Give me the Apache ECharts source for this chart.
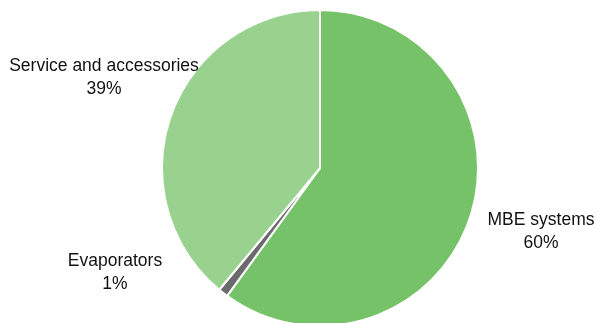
<!DOCTYPE html>
<html>
<head>
<meta charset="utf-8">
<script src="https://cdn.jsdelivr.net/npm/echarts@6/dist/echarts.min.js"></script>
<style>
  html, body { margin: 0; padding: 0; background: #fff; }
  #chartSales { width: 598px; height: 323px; }
</style>
</head>
<body>
<div id="chartSales"></div>
<script>
  var segNames = ['MBE systems', 'Evaporators', 'Service and accessories'];
  var segShares = [60, 1, 39];
  var segColors = ['#76C268', '#6B6B6B', '#98D28E'];
  // label anchor points (centre of the two-line text)
  var labelPos = [[541, 232], [115, 273], [104, 78]];

  var pieData = [];
  segNames.forEach((name, i) => {
    pieData.push({
      name: name,
      value: segShares[i],
      itemStyle: { color: segColors[i] }
    });
  });

  var chartOption = {
    animation: false,
    series: [
      {
        type: 'pie',
        radius: 158,
        center: [320, 168],
        startAngle: 90,
        clockwise: true,
        data: pieData,
        itemStyle: {
          borderColor: '#ffffff',
          borderWidth: 2
        },
        label: {
          show: true,
          position: 'outside',
          formatter: function (p) { return p.name + '\n' + p.value + '%'; },
          fontFamily: 'Liberation Sans, Arial, sans-serif',
          fontSize: 17.5,
          lineHeight: 23,
          color: '#111111',
          align: 'center',
          overflow: 'none',
          width: 300
        },
        labelLine: { show: false },
        labelLayout: function (params) {
          var pt = labelPos[params.dataIndex];
          return { x: pt[0], y: pt[1], align: 'center', verticalAlign: 'middle' };
        },
        emphasis: { disabled: true }
      }
    ]
  };

  var myChart = echarts.init(document.getElementById('chartSales'));
  chartOption && myChart.setOption(chartOption, true);
</script>
</body>
</html>
